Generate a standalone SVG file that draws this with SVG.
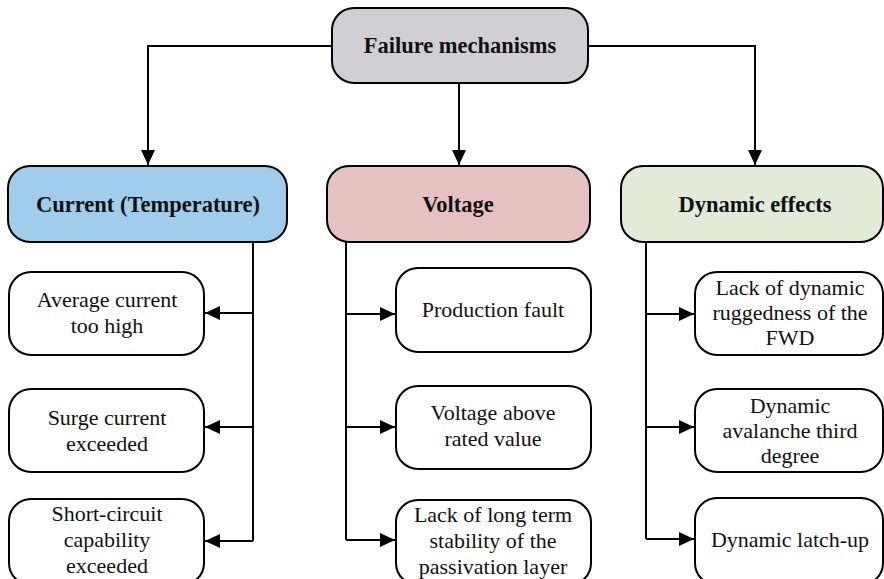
<svg xmlns="http://www.w3.org/2000/svg" width="884" height="579" viewBox="0 0 884 579">
<style>
.box{stroke:#000;stroke-width:2}
.leaf{fill:#fff;stroke:#000;stroke-width:2}
.title{font-family:"Liberation Serif",serif;font-weight:bold;font-size:22.5px;text-anchor:middle;fill:#111}
.txt{font-family:"Liberation Serif",serif;font-size:22px;text-anchor:middle;fill:#111}
.con{fill:none;stroke:#000;stroke-width:2}
</style>
<defs>
<marker id="arr" markerUnits="userSpaceOnUse" markerWidth="16" markerHeight="14" viewBox="0 0 16 14" refX="15" refY="7" orient="auto">
<path d="M0,0 L15,7 L0,14 Z" fill="#000"/>
</marker>
</defs>
<rect width="884" height="579" fill="#fff"/>
<g id="connectors">
<path class="con" d="M332,46 H148 V165" marker-end="url(#arr)"/>
<path class="con" d="M588,46 H755 V165" marker-end="url(#arr)"/>
<path class="con" d="M459,83 V165" marker-end="url(#arr)"/>
<path class="con" d="M253,242 V541"/>
<path class="con" d="M253,313 H205" marker-end="url(#arr)"/>
<path class="con" d="M253,427 H205" marker-end="url(#arr)"/>
<path class="con" d="M253,541 H205" marker-end="url(#arr)"/>
<path class="con" d="M346,242 V540"/>
<path class="con" d="M346,314 H395" marker-end="url(#arr)"/>
<path class="con" d="M346,427 H395" marker-end="url(#arr)"/>
<path class="con" d="M346,540 H395" marker-end="url(#arr)"/>
<path class="con" d="M646,242 V539"/>
<path class="con" d="M646,314 H694" marker-end="url(#arr)"/>
<path class="con" d="M646,427 H694" marker-end="url(#arr)"/>
<path class="con" d="M646,539 H694" marker-end="url(#arr)"/>
</g>
<g id="failure-mechanisms">
<rect class="box" x="332" y="8" width="256" height="75" rx="22" fill="#d0cfd4"/>
<text class="title" x="460" y="53">Failure mechanisms</text>
</g>
<g id="current">
<rect class="box" x="8" y="166" width="279" height="76" rx="22" fill="#a0cdec"/>
<text class="title" x="148" y="212">Current (Temperature)</text>
</g>
<g id="voltage">
<rect class="box" x="327" y="166" width="263" height="76" rx="22" fill="#e6c1c1"/>
<text class="title" x="458" y="212">Voltage</text>
</g>
<g id="dynamic">
<rect class="box" x="621" y="166" width="262" height="76" rx="22" fill="#e2ebd8"/>
<text class="title" x="755" y="212">Dynamic effects</text>
</g>
<g id="avg-current">
<rect class="leaf" x="9" y="272" width="195" height="83" rx="22"/>
<text class="txt" x="107" y="307">Average current</text>
<text class="txt" x="107" y="333">too high</text>
</g>
<g id="surge-current">
<rect class="leaf" x="9" y="389" width="195" height="83" rx="22"/>
<text class="txt" x="107" y="425">Surge current</text>
<text class="txt" x="107" y="451">exceeded</text>
</g>
<g id="short-circuit">
<rect class="leaf" x="9" y="499" width="195" height="86" rx="22"/>
<text class="txt" x="107" y="521">Short-circuit</text>
<text class="txt" x="107" y="547">capability</text>
<text class="txt" x="107" y="573">exceeded</text>
</g>
<g id="production-fault">
<rect class="leaf" x="396" y="268" width="195" height="84" rx="22"/>
<text class="txt" x="493" y="317">Production fault</text>
</g>
<g id="voltage-above">
<rect class="leaf" x="396" y="386" width="195" height="83" rx="22"/>
<text class="txt" x="493" y="420">Voltage above</text>
<text class="txt" x="493" y="446">rated value</text>
</g>
<g id="passivation">
<rect class="leaf" x="396" y="500" width="195" height="85" rx="22"/>
<text class="txt" x="493" y="522">Lack of long term</text>
<text class="txt" x="493" y="548">stability of the</text>
<text class="txt" x="493" y="574">passivation layer</text>
</g>
<g id="ruggedness">
<rect class="leaf" x="695" y="272" width="188" height="83" rx="22"/>
<text class="txt" x="790" y="295">Lack of dynamic</text>
<text class="txt" x="790" y="320">ruggedness of the</text>
<text class="txt" x="790" y="345">FWD</text>
</g>
<g id="avalanche">
<rect class="leaf" x="695" y="389" width="188" height="83" rx="22"/>
<text class="txt" x="790" y="413">Dynamic</text>
<text class="txt" x="790" y="438">avalanche third</text>
<text class="txt" x="790" y="463">degree</text>
</g>
<g id="latch-up">
<rect class="leaf" x="695" y="498" width="188" height="87" rx="22"/>
<text class="txt" x="790" y="547">Dynamic latch-up</text>
</g>
</svg>
